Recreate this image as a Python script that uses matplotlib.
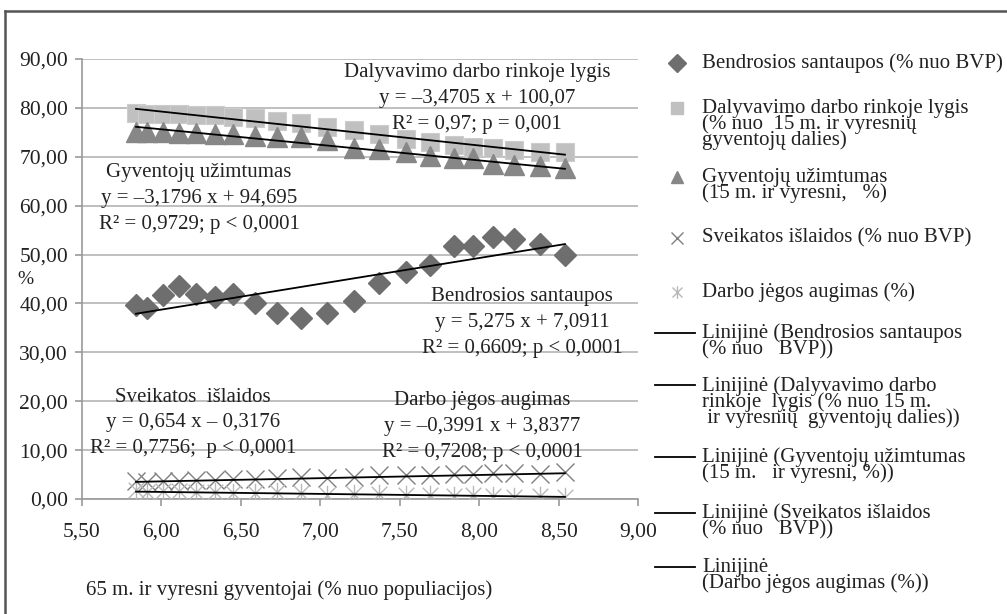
import matplotlib
matplotlib.use("Agg")
import matplotlib.pyplot as plt
from matplotlib.lines import Line2D
from matplotlib.path import Path
import numpy as np

# ---- data -------------------------------------------------------------
# share of population aged 65+ (% of population)
elderly_share = [5.84, 5.91, 6.01, 6.11, 6.22, 6.34, 6.45, 6.59, 6.73, 6.88, 7.04,
                 7.21, 7.37, 7.54, 7.69, 7.84, 7.96, 8.09, 8.22, 8.38, 8.54]
# gross savings (% of GDP)
savings = [39.6, 39.0, 41.8, 43.5, 41.9, 41.4, 41.9, 40.1, 38.0, 37.1, 38.0,
           40.4, 44.1, 46.5, 47.8, 51.8, 51.8, 53.5, 53.2, 52.1, 49.9]
# labour force participation rate (% of population 15+)
participation = [79.0, 78.8, 78.8, 78.8, 78.6, 78.5, 78.2, 78.0, 77.4, 77.0, 76.1,
                 75.4, 74.6, 73.7, 73.1, 72.4, 72.0, 71.7, 71.4, 70.9, 71.0]
# employment (15+, %)
employment = [75.0, 75.0, 75.0, 74.9, 74.8, 74.6, 74.6, 74.3, 74.1, 74.0, 73.4,
              71.8, 71.5, 70.9, 70.2, 69.8, 69.7, 68.5, 68.3, 68.1, 67.8]
# health expenditure (% of GDP)
health = [3.7, 3.5, 3.6, 3.6, 3.8, 3.9, 4.1, 4.0, 4.2, 4.4, 4.3,
          4.6, 4.9, 5.0, 4.9, 5.2, 5.1, 5.4, 5.3, 5.2, 5.5]
# labour force growth (%)
labour_growth = [1.9, 1.5, 1.6, 1.7, 1.4, 1.5, 1.3, 1.2, 1.4, 1.2, 0.9,
                 1.0, 1.1, 0.8, 0.9, 0.7, 0.8, 0.6, 0.5, 0.7, 0.4]

# linear trend coefficients (slope, intercept) and fit statistics
trend_savings = (5.275, 7.0911)
trend_participation = (-3.4705, 100.07)
trend_employment = (-3.1796, 94.695)
trend_health = (0.654, -0.3176)
trend_labour = (-0.3991, 3.8377)

stats_savings = "R² = 0,6609; p < 0,0001"
stats_participation = "R² = 0,97; p = 0,001"
stats_employment = "R² = 0,9729; p < 0,0001"
stats_health = "R² = 0,7756;  p < 0,0001"
stats_labour = "R² = 0,7208; p < 0,0001"

x_ticks = [5.5, 6.0, 6.5, 7.0, 7.5, 8.0, 8.5, 9.0]
y_ticks = [0, 10, 20, 30, 40, 50, 60, 70, 80, 90]

# ---- figure -----------------------------------------------------------
W, H = 1007, 614
plt.rcParams['font.family'] = ['Liberation Serif', 'DejaVu Serif']
fig = plt.figure(figsize=(W / 100, H / 100), dpi=100)
fig.patch.set_facecolor('white')


def fx(px):
    return px / W


def fy(py):
    return 1 - py / H


def num(v):
    return f"{v:g}".replace('.', ',')


def equation(coef):
    a, b = coef
    s = "y = "
    s += ("–" + num(abs(a))) if a < 0 else num(a)
    s += " x "
    s += ("– " + num(abs(b))) if b < 0 else ("+ " + num(b))
    return s


ax = fig.add_axes([fx(82), fy(499), fx(638) - fx(82), fy(59) - fy(499)])
ax.set_xlim(5.5, 9.0)
ax.set_ylim(0, 90)
ax.set_xticks(x_ticks)
ax.set_xticklabels([f"{t:.2f}".replace('.', ',') for t in x_ticks])
ax.set_yticks(y_ticks)
ax.set_yticklabels([f"{t:.2f}".replace('.', ',') for t in y_ticks])
ax.yaxis.grid(True, color='#b4b4b4', lw=1.2)
ax.set_axisbelow(True)
for side in ('top', 'right'):
    ax.spines[side].set_visible(False)
for side in ('left', 'bottom'):
    ax.spines[side].set_color('#9a9a9a')
    ax.spines[side].set_linewidth(1.2)
ax.tick_params(axis='both', direction='out', length=5, width=1.2,
               color='#9a9a9a', labelsize=15.5, labelcolor='#222222')
ax.tick_params(axis='x', pad=12)
ax.tick_params(axis='y', pad=5)

star = Path([(-1, -1), (1, 1), (-1, 1), (1, -1), (0, -1.25), (0, 1.25)],
            [Path.MOVETO, Path.LINETO, Path.MOVETO, Path.LINETO,
             Path.MOVETO, Path.LINETO])

c_sav, c_par, c_emp, c_hea, c_lab = '#6e6e6e', '#c0c0c0', '#878787', '#7f7f7f', '#b8b8b8'

ax.plot(elderly_share, savings, ls='none', marker='D', ms=11.5,
        mfc=c_sav, mec=c_sav, zorder=3)
ax.plot(elderly_share, participation, ls='none', marker='s', ms=13.5,
        mfc=c_par, mec='#cdcdcd', mew=0.8, zorder=3)
ax.plot(elderly_share, employment, ls='none', marker='^', ms=14,
        mfc=c_emp, mec=c_emp, zorder=3.1)
ax.plot(elderly_share, health, ls='none', marker='x', ms=13,
        mec=c_hea, mew=1.0, zorder=3)
ax.plot(elderly_share, labour_growth, ls='none', marker=star, ms=14,
        mec=c_lab, mfc='none', mew=1.0, zorder=3)

xs = np.array([min(elderly_share), max(elderly_share)])
for a, b in (trend_savings, trend_participation, trend_employment,
             trend_health, trend_labour):
    ax.plot(xs, a * xs + b, color='black', lw=1.3, zorder=4)

# ---- trend annotations -------------------------------------------------
tk = dict(fontsize=15, color='#222222', ha='center', va='center',
          multialignment='center', linespacing=1.5)


def block(cx, cy, lines):
    fig.text(fx(cx), fy(cy), "\n".join(lines), **tk)


block(477, 99, ["Dalyvavimo darbo rinkoje lygis",
                equation(trend_participation), stats_participation])
block(199, 199, ["Gyventojų užimtumas",
                 equation(trend_employment), stats_employment])
block(522, 323, ["Bendrosios santaupos",
                 equation(trend_savings), stats_savings])
block(193, 423, ["Sveikatos  išlaidos",
                 equation(trend_health), stats_health])
block(482, 426, ["Darbo jėgos augimas",
                 equation(trend_labour), stats_labour])

fig.text(fx(25), fy(280), "%", fontsize=14, color='#222222', ha='center', va='center')
fig.text(fx(289), fy(590), "65 m. ir vyresni gyventojai (% nuo populiacijos)",
         fontsize=15, color='#222222', ha='center', va='center')

# ---- legend -------------------------------------------------------------
lk = dict(fontsize=15, color='#222222', ha='left', va='center',
          multialignment='left', linespacing=0.74)
tx = fx(702)
step = 16.8

marker_items = [
    (63, dict(marker='D', ms=9, mfc=c_sav, mec=c_sav),
     ["Bendrosios santaupos (% nuo BVP)"]),
    (108, dict(marker='s', ms=8, mfc=c_par, mec=c_par),
     ["Dalyvavimo darbo rinkoje lygis", "(% nuo  15 m. ir vyresnių", "gyventojų dalies)"]),
    (177, dict(marker='^', ms=9, mfc=c_emp, mec=c_emp),
     ["Gyventojų užimtumas", "(15 m. ir vyresni,   %)"]),
    (238, dict(marker='x', ms=8, mec=c_hea, mew=1.0),
     ["Sveikatos išlaidos (% nuo BVP)"]),
    (292, dict(marker=star, ms=9, mec=c_lab, mfc='none', mew=1.0),
     ["Darbo jėgos augimas (%)"]),
]
for y0, style, lines in marker_items:
    fig.add_artist(Line2D([fx(677)], [fy(y0)], ls='none', **style))
    fig.text(tx, fy(y0 + (len(lines) - 1) * step / 2), "\n".join(lines), **lk)

line_items = [
    (333, ["Linijinė (Bendrosios santaupos", "(% nuo   BVP))"]),
    (385, ["Linijinė (Dalyvavimo darbo", "rinkoje  lygis (% nuo 15 m.",
           " ir vyresnių  gyventojų dalies))"]),
    (457, ["Linijinė (Gyventojų užimtumas", "(15 m.   ir vyresni, %))"]),
    (513, ["Linijinė (Sveikatos išlaidos", "(% nuo   BVP))"]),
    (567, ["Linijinė", "(Darbo jėgos augimas (%))"]),
]
for y0, lines in line_items:
    fig.add_artist(Line2D([fx(655), fx(695)], [fy(y0), fy(y0)], color='black', lw=1.3))
    fig.text(tx, fy(y0 + (len(lines) - 1) * step / 2), "\n".join(lines), **lk)

# ---- outer frame --------------------------------------------------------
fig.add_artist(Line2D([fx(5), fx(5)], [fy(11), 0], color='#555555', lw=1.8))
fig.add_artist(Line2D([fx(5), 1], [fy(11), fy(11)], color='#555555', lw=1.8))

fig.savefig("out.png", dpi=100)
